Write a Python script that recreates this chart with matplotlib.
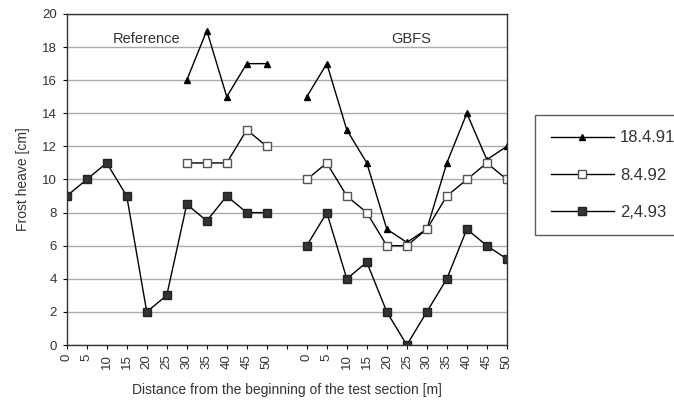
import numpy as np
import matplotlib
matplotlib.use('Agg')
import matplotlib.pyplot as plt

# distances along each test section
distances = [0, 5, 10, 15, 20, 25, 30, 35, 40, 45, 50]

# Reference section
ref_1991 = [np.nan] * 6 + [16, 19, 15, 17, 17]
ref_1992 = [np.nan] * 6 + [11, 11, 11, 13, 12]
ref_1993 = [9, 10, 11, 9, 2, 3, 8.5, 7.5, 9, 8, 8]

# GBFS section
gbfs_1991 = [15, 17, 13, 11, 7, 6.2, 7, 11, 14, 11.2, 12]
gbfs_1992 = [10, 11, 9, 8, 6, 6, 7, 9, 10, 11, 10]
gbfs_1993 = [6, 8, 4, 5, 2, 0, 2, 4, 7, 6, 5.2]

series_labels = ['18.4.91', '8.4.92', '2,4.93']

plt.rcParams['font.family'] = ['Liberation Sans', 'DejaVu Sans']


def join(left, right):
    # one empty slot between the two sections
    return np.array(list(left) + [np.nan] + list(right), dtype=float)


x = np.arange(len(distances) * 2 + 1)
tick_labels = [str(d) for d in distances] + [''] + [str(d) for d in distances]

fig = plt.figure(figsize=(6.74, 4.0), dpi=100)
ax = fig.add_axes([0.099, 0.1375, 0.653, 0.8275])

ax.plot(x, join(ref_1991, gbfs_1991), color='black', lw=1.0, marker='^',
        ms=5, mfc='black', mec='black', label=series_labels[0])
ax.plot(x, join(ref_1992, gbfs_1992), color='black', lw=1.0, marker='s',
        ms=6, mfc='white', mec='#555555', label=series_labels[1])
ax.plot(x, join(ref_1993, gbfs_1993), color='black', lw=1.0, marker='s',
        ms=6, mfc='#333333', mec='#222222', label=series_labels[2])

ax.set_xlim(0, len(x) - 1)
ax.set_ylim(0, 20)
ax.set_yticks(range(0, 21, 2))
ax.set_xticks(x)
ax.set_xticklabels(tick_labels, rotation=90, fontsize=9.5, color='#333333')
ax.tick_params(axis='y', labelsize=9.5, labelcolor='#333333', length=3, pad=4)
ax.tick_params(axis='x', length=3)
ax.yaxis.grid(True, color='#aaaaaa', lw=1.0)
ax.set_axisbelow(True)
for s in ax.spines.values():
    s.set_color('#333333')
    s.set_linewidth(1.0)

ax.set_ylabel('Frost heave [cm]', fontsize=10, color='#333333', labelpad=9)
ax.set_xlabel('Distance from the beginning of the test section [m]',
              fontsize=10, color='#333333', labelpad=10)

ax.text(4.0, 18.5, 'Reference', ha='center', va='center', fontsize=10.5, color='#333333')
ax.text(17.2, 18.5, 'GBFS', ha='center', va='center', fontsize=10.5, color='#333333')

leg = fig.legend(loc='upper left', bbox_to_anchor=(0.794, 0.7125), borderaxespad=0,
                 fontsize=12, handlelength=3.8, handletextpad=0.35, labelspacing=1.33,
                 frameon=True, fancybox=False, edgecolor='#333333', borderpad=0.93)
leg.get_frame().set_linewidth(1.0)
for t in leg.get_texts():
    t.set_color('#333333')

fig.savefig('out.png', dpi=100)
